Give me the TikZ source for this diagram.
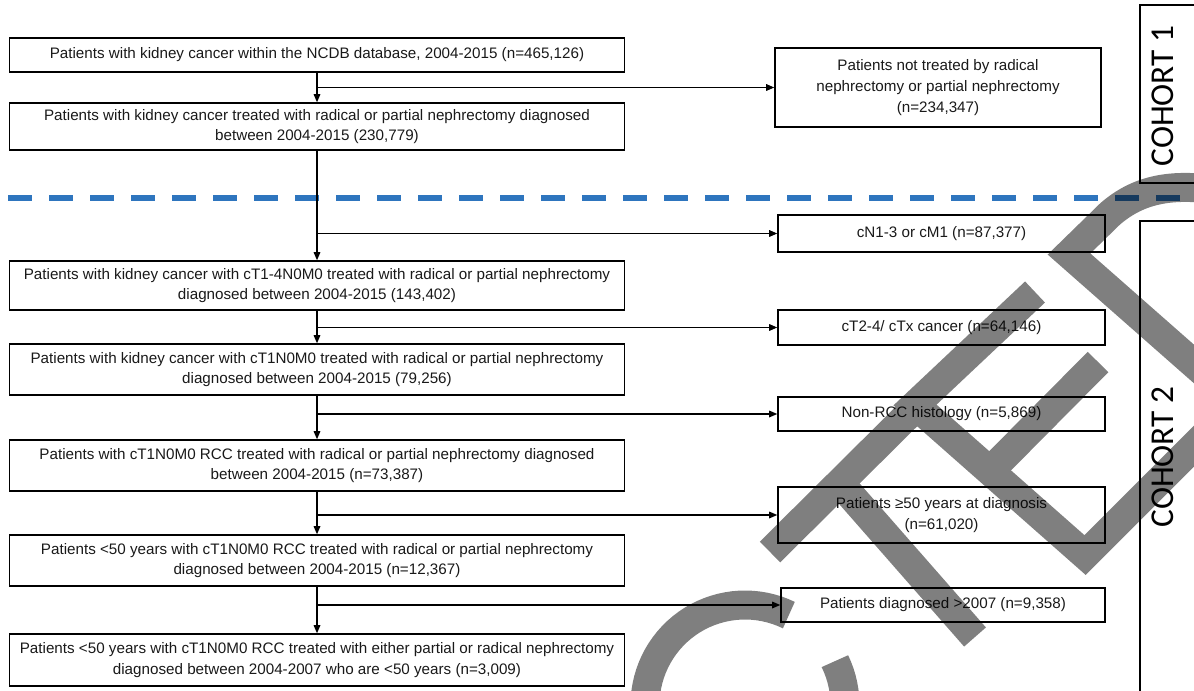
\documentclass[tikz,border=0pt]{standalone}
\usepackage{fontspec}
\setmainfont{Liberation Sans}
\newfontfamily\cohortfont{Carlito}
\usetikzlibrary{arrows.meta}
\definecolor{dashblue}{RGB}{46,117,190}
\definecolor{inkc}{RGB}{25,25,25}
\begin{document}
\begin{tikzpicture}[x=0.75pt,y=-0.75pt,
  lbox/.style={draw=black, line width=1.2pt, align=center, inner sep=0pt, text=inkc,
    font=\fontsize{11.4}{15.5}\selectfont, minimum width=461.25pt},
  rbox/.style={draw=black, line width=1.2pt, align=center, inner sep=0pt, text=inkc,
    font=\fontsize{11.4}{15.5}\selectfont, minimum width=245.25pt},
  conn/.style={line width=0.8pt, draw=black, -{Triangle[length=6pt,width=5pt]}},
  cohort/.style={rotate=90, inner sep=0pt, text=black, font=\cohortfont\fontsize{25}{30}\selectfont},
  cohortbox/.style={draw=black, line width=1.1pt},
  wm/.style={draw=black, line width=21.75pt, line join=miter, line cap=butt}
]
\useasboundingbox (0,0) rectangle (1194,691);
\clip (0,0) rectangle (1194,691);

% separator
\draw[dashblue, line width=4.5pt, dash pattern=on 18pt off 12.75pt] (8,198) -- (1194,198);

% left column
\node[lbox, minimum height=25.5pt] (b1) at (317,55)
  {Patients with kidney cancer within the NCDB database, 2004-2015 (n=465,126)};
\node[lbox, minimum height=35.25pt] (b2) at (317,126.5)
  {Patients with kidney cancer treated with radical or partial nephrectomy diagnosed\\between 2004-2015 (230,779)};
\node[lbox, minimum height=36.75pt] (b3) at (317,285.5)
  {Patients with kidney cancer with cT1-4N0M0 treated with radical or partial nephrectomy\\diagnosed between 2004-2015 (143,402)};
\node[lbox, minimum height=38.25pt] (b4) at (317,369.5)
  {Patients with kidney cancer with cT1N0M0 treated with radical or partial nephrectomy\\diagnosed between 2004-2015 (79,256)};
\node[lbox, minimum height=38.25pt] (b5) at (317,465.5)
  {Patients with cT1N0M0 RCC treated with radical or partial nephrectomy diagnosed\\between 2004-2015 (n=73,387)};
\node[lbox, minimum height=38.25pt] (b6) at (317,560.5)
  {Patients <50 years with cT1N0M0 RCC treated with radical or partial nephrectomy\\diagnosed between 2004-2015 (n=12,367)};
\node[lbox, minimum height=39pt] (b7) at (317,660)
  {Patients <50 years with cT1N0M0 RCC treated with either partial or radical nephrectomy\\diagnosed between 2004-2007 who are <50 years (n=3,009)};

% right column
\node[rbox, minimum width=244.5pt, minimum height=59.25pt] (rA) at (938,87.5)
  {Patients not treated by radical\\nephrectomy or partial nephrectomy\\(n=234,347)};
\node[rbox, minimum height=27.75pt] (rB) at (941.5,233.5) {cN1-3 or cM1 (n=87,377)};
\node[rbox, minimum height=26.25pt] (rC) at (941.5,327.5) {cT2-4/ cTx cancer (n=64,146)};
\node[rbox, minimum height=25.5pt] (rD) at (941.5,414) {Non-RCC histology (n=5,869)};
\node[rbox, minimum height=42pt] (rE) at (941.5,515) {Patients \symbol{"2265}50 years at diagnosis\\(n=61,020)};
\node[rbox, minimum width=243pt, minimum height=25.5pt] (rF) at (943,605) {Patients diagnosed >2007 (n=9,358)};

% connectors
\draw[conn] (b1.south) -- (b2.north);
\draw[conn] (b1.south |- rA.west) -- (rA.west);
\draw[conn] (b2.south) -- (b3.north);
\draw[conn] (b2.south |- rB.west) -- (rB.west);
\draw[conn] (b3.south) -- (b4.north);
\draw[conn] (b3.south |- rC.west) -- (rC.west);
\draw[conn] (b4.south) -- (b5.north);
\draw[conn] (b4.south |- rD.west) -- (rD.west);
\draw[conn] (b5.south) -- (b6.north);
\draw[conn] (b5.south |- rE.west) -- (rE.west);
\draw[conn] (b6.south) -- (b7.north);
\draw[conn] (b6.south |- rF.west) -- (rF.west);

% cohort brackets
\draw[cohortbox] (1140,5) rectangle (1230,183);
\draw[cohortbox] (1140,221) rectangle (1230,720);
\node[cohort] (c1) at (1163,96) {COHORT 1};
\node[cohort] (c2) at (1163,457) {COHORT 2};

% watermark
\begin{scope}[transparency group, opacity=0.5]
\draw[wm] plot[domain=-386:-64, samples=90, variable=\t] ({745+100*cos(\t)},{705+100*sin(\t)});
\draw[wm] (770,552) -- (908,415);
\draw[wm] (840,483) -- (975,637);
\draw[wm] (1035,292) -- (915,405) -- (1085,555) -- (1205,435);
\draw[wm] (990,471) -- (1098,362);
\draw[wm] (1269,430) -- (1069,254) -- (1110,214) .. controls (1140,188) and (1175,182) .. (1230,192);
\end{scope}
\end{tikzpicture}
\end{document}
